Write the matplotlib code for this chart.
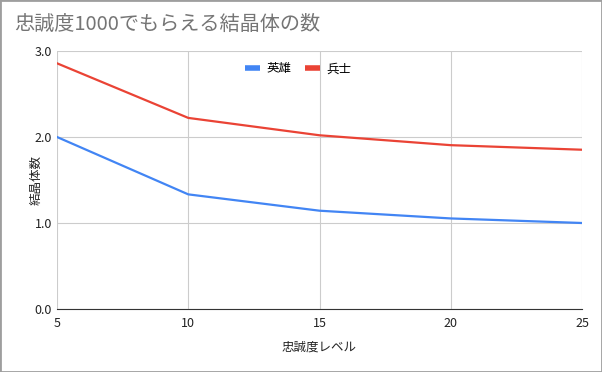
import matplotlib.pyplot as plt
from matplotlib.patches import Rectangle

plt.rcParams['font.family'] = ['Noto Sans CJK JP', 'DejaVu Sans']

levels = [5, 10, 15, 20, 25]
hero = [2.0, 1.333, 1.143, 1.053, 1.0]
soldier = [2.857, 2.222, 2.02, 1.905, 1.852]
y_ticks = [0.0, 1.0, 2.0, 3.0]

fig = plt.figure(figsize=(6.02, 3.72), dpi=100)
ax = fig.add_axes([57/602, 1 - 309/372, (582 - 57)/602, (309 - 51)/372])

ax.plot(levels, hero, color='#4285f4', lw=1.6, label='英雄')
ax.plot(levels, soldier, color='#ea4335', lw=1.6, label='兵士')

ax.set_xlim(5, 25)
ax.set_ylim(0, 3)
ax.set_xticks(levels)
ax.set_yticks(y_ticks)
ax.set_yticklabels([f'{v:.1f}' for v in y_ticks])
ax.grid(True, color='#cccccc', lw=0.8)
ax.set_axisbelow(True)
for s in ['top', 'right', 'left']:
    ax.spines[s].set_visible(False)
ax.spines['bottom'].set_color('#333333')
ax.tick_params(length=0, labelsize=9, colors='#222222')
ax.tick_params(axis='x', pad=6)

ax.set_xlabel('忠誠度レベル', fontsize=9, color='#222222')
ax.xaxis.set_label_coords(0.5, -(341 - 309) / 258)
ax.set_ylabel('結晶体数', fontsize=9, color='#222222')
ax.yaxis.set_label_coords(-(57 - 43) / 525, 0.5)

ax.legend(loc='upper center', bbox_to_anchor=(0.46, 1.0), ncol=2, frameon=False,
          fontsize=9, handlelength=1.2, handleheight=0.5, handletextpad=0.5,
          columnspacing=1.1)
for line in ax.get_legend().get_lines():
    line.set_linewidth(4)
    line.set_solid_capstyle('butt')

fig.text(14/602, 1 - 24/372, '忠誠度1000でもらえる結晶体の数', fontsize=14.5,
         color='#757575', va='center', ha='left')

fig.patches.append(Rectangle((0, 0), 1, 1, transform=fig.transFigure, fill=False,
                             edgecolor='#9e9e9e', lw=2))

fig.savefig('out.png', dpi=100)
